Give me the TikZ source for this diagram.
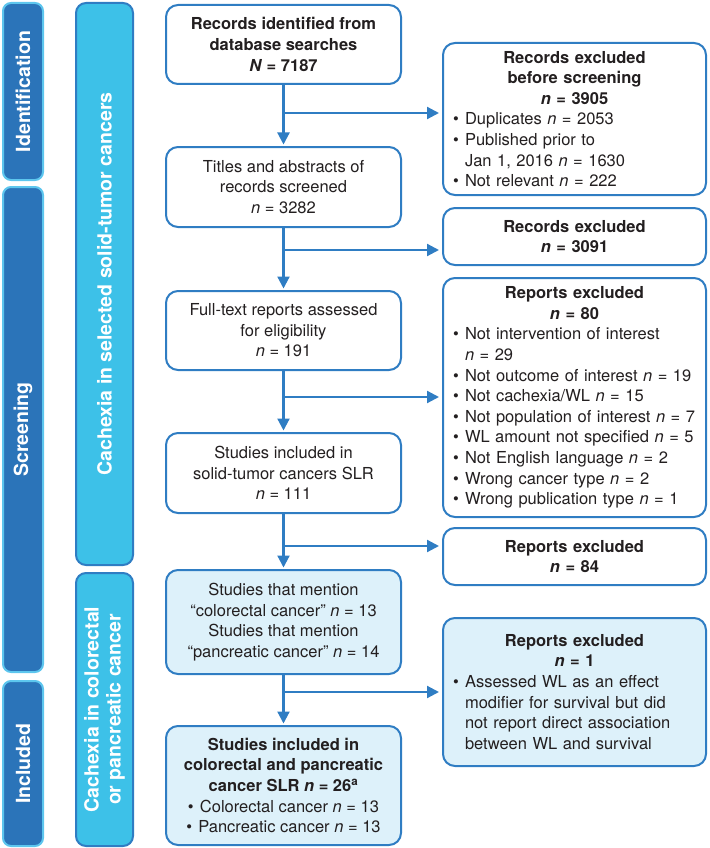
\documentclass[tikz,border=0pt]{standalone}
\usepackage{fontspec}
\setmainfont{TeX Gyre Heros}
\usetikzlibrary{arrows.meta}
\setlength\parindent{0pt}
\definecolor{phasefill}{HTML}{2B74B9}
\definecolor{phaseedge}{HTML}{5DC6EE}
\definecolor{midfill}{HTML}{3DC1E8}
\definecolor{boxedge}{HTML}{2F7DC3}
\definecolor{lightfill}{HTML}{DDF1FA}
\definecolor{txt}{HTML}{231F20}
\newcommand\bul{\makebox[12pt][l]{\textbullet}}
\newcommand\ind{\hspace*{12pt}}
\newcommand\bn{\textbf{\textit{n}}}
\newcommand\itn{\textit{n}}
\begin{document}
\begin{tikzpicture}[x=1pt,y=-1pt,
  phase/.style={draw=phaseedge, line width=2pt, fill=phasefill, rounded corners=8pt,
    text=white, font=\fontsize{19.5}{22}\selectfont\bfseries, rotate=90, minimum height=40pt},
  mid/.style={draw=boxedge, line width=2pt, fill=midfill, rounded corners=10pt,
    text=white, font=\fontsize{19.5}{22}\selectfont\bfseries, rotate=90, minimum height=57pt, align=center},
  mbox/.style={draw=boxedge, line width=2pt, fill=white, rounded corners=12pt,
    minimum width=235pt, align=center, text=txt, font=\fontsize{16.5}{20.6}\selectfont, inner sep=2pt},
  rbox/.style={draw=boxedge, line width=2pt, fill=white, rounded corners=12pt,
    text width=243pt, inner xsep=10pt, inner ysep=2pt, text=txt, font=\fontsize{16.5}{20.6}\selectfont},
  arr/.style={draw=boxedge, line width=2.2pt, -{Triangle[length=12pt,width=12pt]}, shorten >=1.5pt},
  harr/.style={arr, shorten >=3pt}
]
\useasboundingbox (0,0) rectangle (709,848);

% phase bars
\node[phase, minimum width=177pt] (pid) at (23,91.5) {Identification};
\node[phase, minimum width=485pt] (psc) at (23,429.5) {Screening};
\node[phase, minimum width=165pt] (pin) at (23,763.5) {Included};

% middle bars
\node[mid, minimum width=562pt] (cs) at (104.5,284) {Cachexia in selected solid-tumor cancers};
\node[mid, minimum width=273pt] (cp) at (104.5,709.5) {Cachexia in colorectal\\or pancreatic cancer};

% main boxes
\node[mbox, minimum height=79pt] (b1) at (283.5,44.5)
  {\textbf{Records identified from}\\\textbf{database searches}\\\textbf{\textit{N} = 7187}};
\node[mbox, minimum height=80pt] (b2) at (283.5,187)
  {Titles and abstracts of\\records screened\\\itn{} = 3282};
\node[mbox, minimum height=79pt] (b3) at (283.5,330.5)
  {Full-text reports assessed\\for eligibility\\\itn{} = 191};
\node[mbox, minimum height=80pt] (b4) at (283.5,473)
  {Studies included in\\solid-tumor cancers SLR\\\itn{} = 111};
\node[mbox, fill=lightfill, minimum height=104pt] (b5) at (283.5,622)
  {Studies that mention\\“colorectal cancer” \itn{} = 13\\Studies that mention\\“pancreatic cancer” \itn{} = 14};
\node[mbox, fill=lightfill, minimum height=119pt] (b6) at (283.5,785.5)
  {\textbf{Studies included in}\\\textbf{colorectal and pancreatic}\\\textbf{cancer SLR \bn{} = 26\textsuperscript{a}}\\\bul Colorectal cancer \itn{} = 13\\\bul Pancreatic cancer \itn{} = 13};

% right boxes
\node[rbox, minimum height=152pt] (r1) at (574.5,119)
  {{\centering\bfseries Records excluded\\before screening\\\bn{} = 3905\par}
   \raggedright
   \bul Duplicates \itn{} = 2053\\
   \bul Published prior to\\
   \ind Jan 1, 2016 \itn{} = 1630\\
   \bul Not relevant \itn{} = 222};
\node[rbox, minimum height=57pt] (r2) at (574.5,236.5)
  {{\centering\bfseries Records excluded\\\bn{} = 3091\par}};
\node[rbox, minimum height=239pt] (r3) at (574.5,397.5)
  {{\centering\bfseries Reports excluded\\\bn{} = 80\par}
   \raggedright
   \bul Not intervention of interest\\
   \ind\itn{} = 29\\
   \bul Not outcome of interest \itn{} = 19\\
   \bul Not cachexia/WL \itn{} = 15\\
   \bul Not population of interest \itn{} = 7\\
   \bul WL amount not specified \itn{} = 5\\
   \bul Not English language \itn{} = 2\\
   \bul Wrong cancer type \itn{} = 2\\
   \bul Wrong publication type \itn{} = 1};
\node[rbox, minimum height=57pt] (r4) at (574.5,556.5)
  {{\centering\bfseries Reports excluded\\\bn{} = 84\par}};
\node[rbox, fill=lightfill, minimum height=148pt] (r5) at (574.5,692)
  {{\centering\bfseries Reports excluded\\\bn{} = 1\par}
   \raggedright
   \bul Assessed WL as an effect\\
   \ind modifier for survival but did\\
   \ind not report direct association\\
   \ind between WL and survival};

% junctions
\coordinate (j1) at (283.5,113);
\coordinate (j2) at (283.5,250);
\coordinate (j3) at (283.5,397);
\coordinate (j4) at (283.5,546);
\coordinate (j5) at (283.5,692);

% connectors
\draw[arr] (b1) -- (b2);
\draw[arr] (b2) -- (b3);
\draw[arr] (b3) -- (b4);
\draw[arr] (b4) -- (b5);
\draw[arr] (b5) -- (b6);
\draw[harr] (j1) -- (j1 -| r1.west);
\draw[harr] (j2) -- (j2 -| r2.west);
\draw[harr] (j3) -- (j3 -| r3.west);
\draw[harr] (j4) -- (j4 -| r4.west);
\draw[harr] (j5) -- (j5 -| r5.west);
\end{tikzpicture}
\end{document}
